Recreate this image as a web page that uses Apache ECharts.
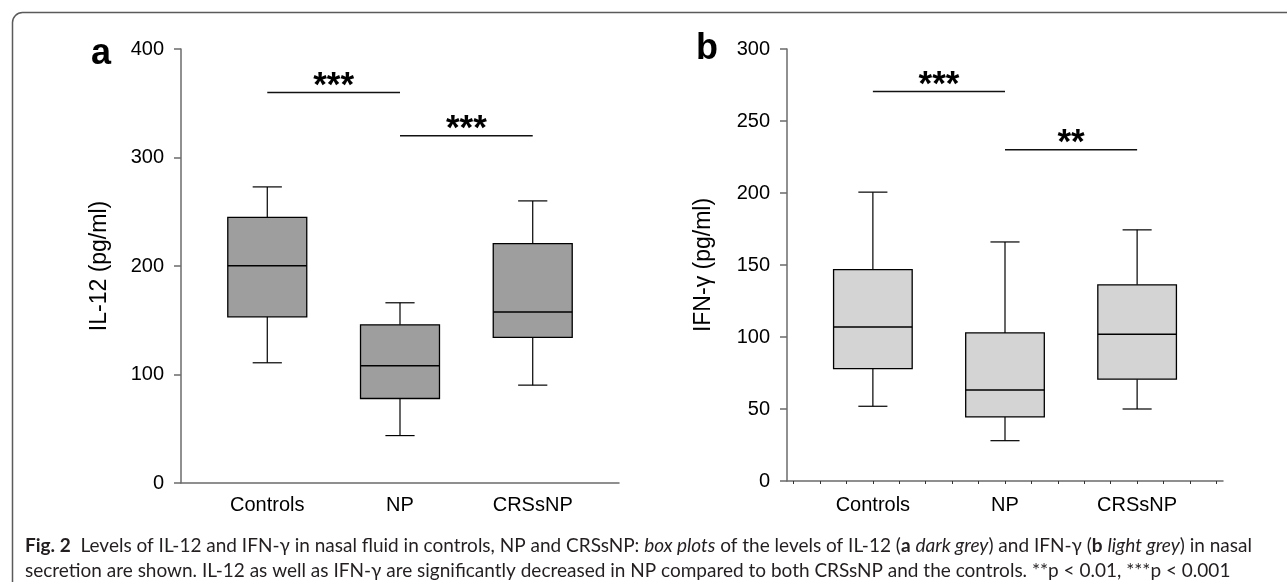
<!DOCTYPE html>
<html>
<head>
<meta charset="utf-8">
<script src="https://cdn.jsdelivr.net/npm/echarts@6/dist/echarts.min.js"></script>
<style>
html,body{margin:0;padding:0;background:#fff;}
#chart{width:1287px;height:582px;}
</style>
</head>
<body>
<div id="chart"></div>
<script>
// ---- data ----
const categories = ['Controls', 'NP', 'CRSsNP'];
// [min, Q1, median, Q3, max]
const il12Boxes = [
  [110.8, 153.2, 200.3, 244.9, 272.9],
  [43.7, 77.9, 108.0, 145.8, 166.1],
  [90.2, 134.2, 157.5, 220.6, 260.0]
];
const ifngBoxes = [
  [51.9, 78.0, 107.0, 146.8, 200.6],
  [28.0, 44.5, 63.2, 102.8, 166.0],
  [50.0, 70.7, 101.9, 136.2, 174.4]
];
const il12Ticks = [0, 100, 200, 300, 400];
const ifngTicks = [0, 50, 100, 150, 200, 250, 300];
// significance brackets: [fromCategoryIndex, toCategoryIndex, level]
const il12Sig = [[0, 1, 360], [1, 2, 320]];
const il12SigLabels = ['***', '***'];
const ifngSig = [[0, 1, 270.5], [1, 2, 230]];
const ifngSigLabels = ['***', '**'];

// ---- styles ----
const FONT = '"Liberation Sans", Arial, sans-serif';
const CAP_FONT = 'Lato, "Open Sans", sans-serif';
const AXIS_COLOR = '#6b6b6b';
const BOX_W = 0.595;
const CAP_W = 0.22;

function boxRender(fill) {
  return function (params, api) {
    const x = api.value(0);
    const lo = api.coord([x, api.value(1)]);
    const q1 = api.coord([x, api.value(2)]);
    const med = api.coord([x, api.value(3)]);
    const q3 = api.coord([x, api.value(4)]);
    const hi = api.coord([x, api.value(5)]);
    const bw = api.size([BOX_W, 0])[0];
    const cw = api.size([CAP_W, 0])[0];
    const cx = lo[0];
    const ls = {stroke: '#000', lineWidth: 1.2};
    return {
      type: 'group',
      children: [
        {type: 'line', shape: {x1: cx, y1: hi[1], x2: cx, y2: q3[1]}, style: ls},
        {type: 'line', shape: {x1: cx - cw / 2, y1: hi[1], x2: cx + cw / 2, y2: hi[1]}, style: ls},
        {type: 'line', shape: {x1: cx, y1: lo[1], x2: cx, y2: q1[1]}, style: ls},
        {type: 'line', shape: {x1: cx - cw / 2, y1: lo[1], x2: cx + cw / 2, y2: lo[1]}, style: ls},
        {type: 'rect', shape: {x: cx - bw / 2, y: q3[1], width: bw, height: q1[1] - q3[1]},
          style: {fill: fill, stroke: '#000', lineWidth: 1.3}},
        {type: 'line', shape: {x1: cx - bw / 2, y1: med[1], x2: cx + bw / 2, y2: med[1]}, style: {stroke: '#000', lineWidth: 1.5}}
      ]
    };
  };
}

function sigRender(labels) {
  return function (params, api) {
    const a = api.coord([api.value(0), api.value(2)]);
    const b = api.coord([api.value(1), api.value(2)]);
    return {
      type: 'group',
      children: [
        {type: 'line', shape: {x1: a[0], y1: a[1], x2: b[0], y2: b[1]}, style: {stroke: '#111', lineWidth: 1.5}},
        {type: 'text', x: (a[0] + b[0]) / 2, y: a[1] + 11,
          style: {text: labels[params.dataIndex], font: 'bold 35px ' + FONT, fill: '#000', align: 'center', verticalAlign: 'bottom'}}
      ]
    };
  };
}

function xAxisFor(grid, minorTicks) {
  const ticks = [];
  if (minorTicks) { for (let i = 2; i <= 18; i++) ticks.push(i / 5); }
  return {
    type: 'value', gridIndex: grid, min: 0.35, max: 3.65,
    splitLine: {show: false},
    axisLine: {show: true, onZero: false, lineStyle: {color: AXIS_COLOR, width: 1.5}},
    axisTick: minorTicks ? {show: true, inside: false, length: 3, customValues: ticks, lineStyle: {color: '#333', width: 1}} : {show: false},
    axisLabel: {customValues: [1, 2, 3], formatter: v => categories[Math.round(v) - 1],
      fontSize: 20, color: '#000', fontFamily: FONT, margin: minorTicks ? 14 : 12}
  };
}

function yAxisFor(grid, max, interval, name, gap) {
  return {
    type: 'value', gridIndex: grid, min: 0, max: max, interval: interval,
    splitLine: {show: false},
    axisLine: {show: true, lineStyle: {color: AXIS_COLOR, width: 1.5}},
    axisTick: {show: true, length: 7, lineStyle: {color: AXIS_COLOR, width: 1.5}},
    axisLabel: {fontSize: 20, color: '#000', fontFamily: FONT, margin: 17},
    name: name, nameLocation: 'middle', nameGap: gap, nameRotate: 90,
    nameTextStyle: {fontSize: 23, color: '#000', fontFamily: FONT}
  };
}

const chart = echarts.init(document.getElementById('chart'), null, {renderer: 'canvas'});
chart.setOption({
  backgroundColor: '#fff',
  animation: false,
  grid: [
    {left: 181, top: 49, width: 438, height: 434},
    {left: 787, top: 49, width: 436, height: 432}
  ],
  xAxis: [xAxisFor(0, false), xAxisFor(1, true)],
  yAxis: [
    yAxisFor(0, 400, 100, 'IL-12 (pg/ml)', 70),
    yAxisFor(1, 300, 50, 'IFN-γ (pg/ml)', 72)
  ],
  series: [
    {type: 'custom', xAxisIndex: 0, yAxisIndex: 0, renderItem: boxRender('#9d9e9d'),
      data: il12Boxes.map((d, i) => [i + 1].concat(d)), clip: false},
    {type: 'custom', xAxisIndex: 1, yAxisIndex: 1, renderItem: boxRender('#d3d4d3'),
      data: ifngBoxes.map((d, i) => [i + 1].concat(d)), clip: false},
    {type: 'custom', xAxisIndex: 0, yAxisIndex: 0, renderItem: sigRender(il12SigLabels),
      data: il12Sig.map(s => [s[0] + 1, s[1] + 1, s[2]]), clip: false},
    {type: 'custom', xAxisIndex: 1, yAxisIndex: 1, renderItem: sigRender(ifngSigLabels),
      data: ifngSig.map(s => [s[0] + 1, s[1] + 1, s[2]]), clip: false}
  ],
  graphic: [
    {type: 'rect', left: 10, top: 10, silent: true,
      shape: {width: 1300, height: 580, r: 10}, style: {fill: 'none', stroke: '#5a5a5a', lineWidth: 1.5}},
    {type: 'text', left: 91, top: 36, style: {text: 'a', font: 'bold 36px ' + FONT, fill: '#000'}},
    {type: 'text', left: 696, top: 31, style: {text: 'b', font: 'bold 36px ' + FONT, fill: '#000'}},
    {type: 'text', left: 25, top: 533, style: {
      text: '{b|Fig. 2}  Levels of IL-12 and IFN-γ in nasal fluid in controls, NP and CRSsNP: {i|box plots} of the levels of IL-12 ({b|a} {i|dark grey}) and IFN-γ ({b|b} {i|light grey}) in nasal\nsecretion are shown. IL-12 as well as IFN-γ are significantly decreased in NP compared to both CRSsNP and the controls. **p < 0.01, ***p < 0.001',
      font: '19px ' + CAP_FONT, fill: '#231f20', lineHeight: 25,
      rich: {
        b: {fontWeight: 'bold', fontSize: 19, fontFamily: CAP_FONT, fill: '#231f20', lineHeight: 25},
        i: {fontStyle: 'italic', fontSize: 19, fontFamily: CAP_FONT, fill: '#231f20', lineHeight: 25}
      }
    }}
  ]
});
</script>
</body>
</html>
